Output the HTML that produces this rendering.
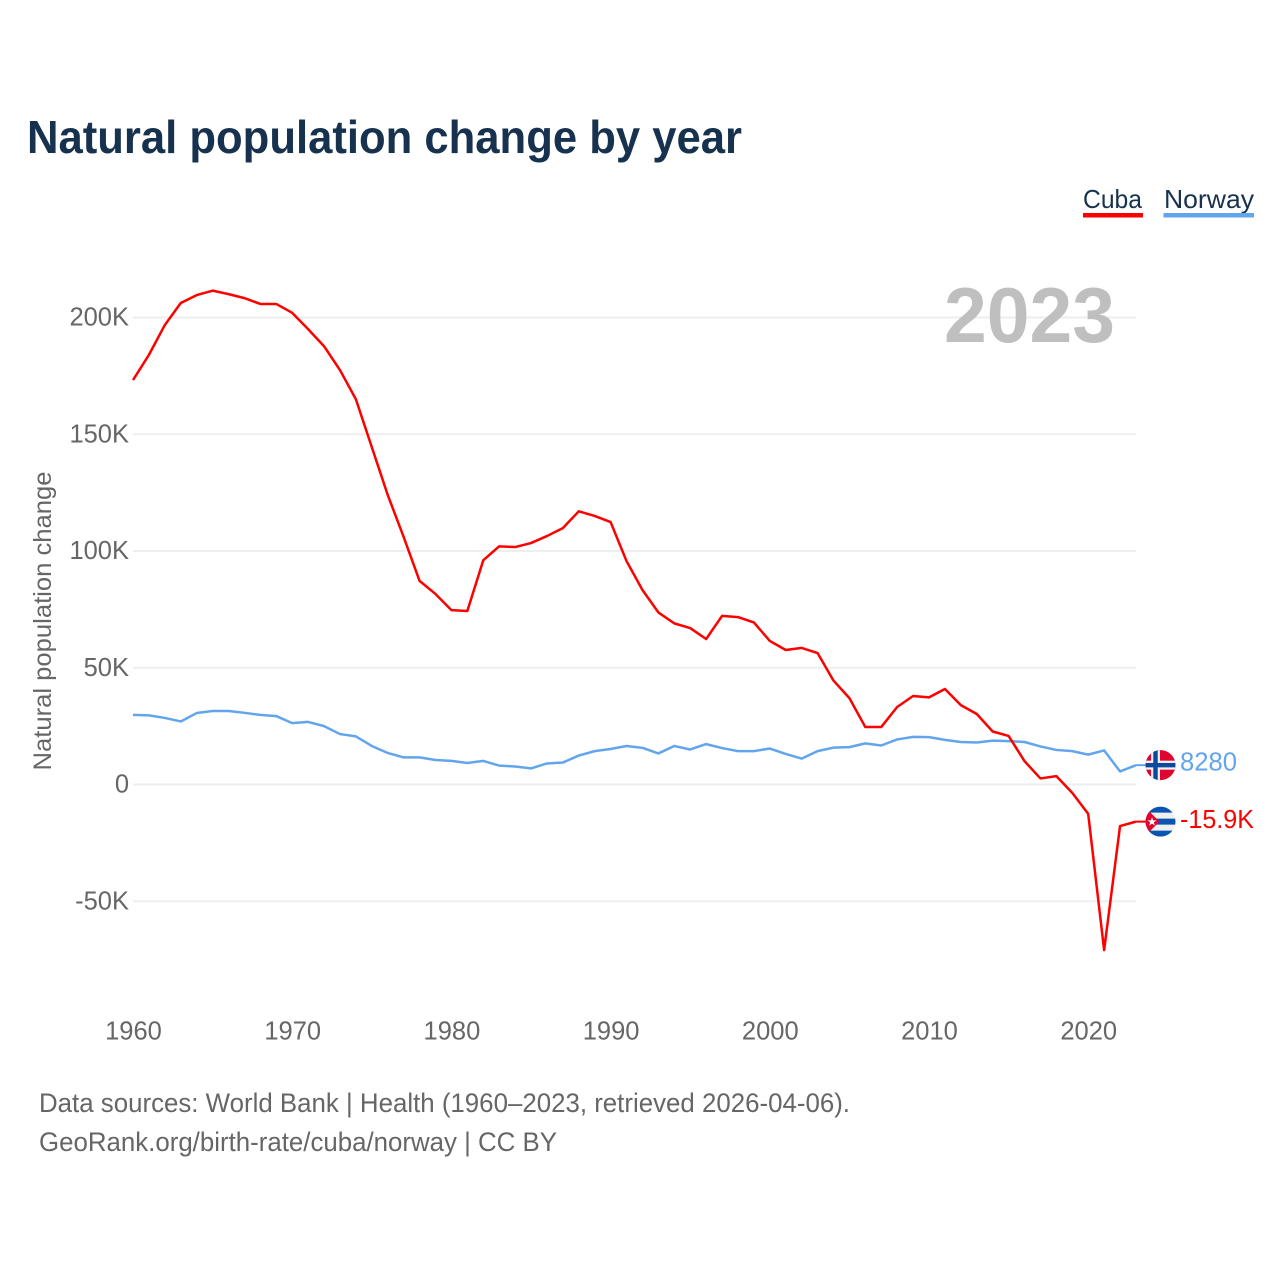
<!DOCTYPE html>
<html lang="en">
<head>
<meta charset="utf-8">
<title>Natural population change by year</title>
<style>
html,body{margin:0;padding:0;background:#fff;width:1280px;height:1280px;overflow:hidden}
svg{display:block}
text{font-family:"Liberation Sans",sans-serif}
</style>
</head>
<body>
<svg id="chart" xmlns="http://www.w3.org/2000/svg" width="1280" height="1280" viewBox="0 0 1280 1280">
  <defs>
    <clipPath id="flag-clip"><circle cx="0" cy="0" r="15"/></clipPath>
  </defs>
  <rect width="1280" height="1280" fill="#fff"/>
  <text x="27" y="153" font-size="46" font-weight="700" fill="#17324f" textLength="715" lengthAdjust="spacingAndGlyphs">Natural population change by year</text>

  <g>
    <text x="1083" y="208" font-size="26" fill="#17324f" textLength="59" lengthAdjust="spacingAndGlyphs">Cuba</text>
    <rect x="1083" y="213" width="60" height="4.5" fill="#ff0000"/>
  </g>
  <g>
    <text x="1164" y="208" font-size="26" fill="#17324f" textLength="90" lengthAdjust="spacingAndGlyphs">Norway</text>
    <rect x="1163.500" y="213" width="90.500" height="4.500" fill="#63a5ec"/>
  </g>

  <g id="grid"></g>
  <g id="ytick-group"></g>
  <g id="xtick-group"></g>

  <text x="1115" y="342" font-size="78" font-weight="700" fill="#bfbfbf" text-anchor="end" textLength="171" lengthAdjust="spacingAndGlyphs">2023</text>

  <text transform="translate(51 621) rotate(-90)" font-size="25" fill="#666" text-anchor="middle" textLength="299" lengthAdjust="spacingAndGlyphs">Natural population change</text>

  <g id="series"></g>
  <g id="end-labels"></g>

  <text x="39" y="1112" font-size="27" fill="#666" textLength="811" lengthAdjust="spacingAndGlyphs">Data sources: World Bank | Health (1960–2023, retrieved 2026-04-06).</text>
  <text x="39" y="1151" font-size="27" fill="#666" textLength="518" lengthAdjust="spacingAndGlyphs">GeoRank.org/birth-rate/cuba/norway | CC BY</text>
</svg>
<script>
const startYear = 1960;
const yTickValues = [200, 150, 100, 50, 0, -50];
const yTickLabels = ["200K", "150K", "100K", "50K", "0", "-50K"];
const xTickValues = [1960, 1970, 1980, 1990, 2000, 2010, 2020];
const xTickLabels = ["1960", "1970", "1980", "1990", "2000", "2010", "2020"];
const cubaValues = [173.2,184,196.8,206.2,209.6,211.5,210,208.3,205.8,205.8,202,195,187.7,177.5,165,144.5,124,106,87.2,81.6,74.7,74.3,96,102,101.7,103.4,106.4,109.8,117,115,112.4,95.7,83.3,73.7,69,67,62.3,72.2,71.7,69.4,61.5,57.6,58.5,56.3,44.5,37,24.6,24.6,33.2,37.9,37.3,40.9,34,30.2,22.7,20.8,10,2.6,3.6,-3.6,-12.6,-70.9,-17.8,-15.9];
const norwayValues = [29.8,29.6,28.5,27,30.6,31.5,31.5,30.7,29.8,29.3,26.3,26.8,25,21.6,20.6,16.5,13.5,11.6,11.6,10.5,10.1,9.2,10.1,8.1,7.7,6.9,9,9.4,12.4,14.3,15.2,16.5,15.7,13.3,16.5,15,17.3,15.6,14.3,14.3,15.4,13.1,11.1,14.3,15.8,16,17.6,16.7,19.3,20.4,20.3,19.1,18.2,18,18.8,18.6,18.2,16.3,14.8,14.3,12.8,14.6,5.6,8.28];
const cubaEndLabel = "-15.9K";
const norwayEndLabel = "8280";

const NS = "http://www.w3.org/2000/svg";
const xScale = function (year) { return 133 + (year - startYear) * 15.92; };
const yScale = function (value) { return 784.5 - value * 2.335; };
function make(tag, attrs, parent) {
  const el = document.createElementNS(NS, tag);
  for (const k in attrs) el.setAttribute(k, attrs[k]);
  parent.appendChild(el);
  return el;
}

const grid = document.getElementById("grid");
const yTicks = document.getElementById("ytick-group");
yTickValues.forEach(function (v, i) {
  const line = make("line", {x1: 133, x2: 1136, y1: yScale(v), y2: yScale(v), stroke: "#eeeeee", "stroke-width": 2}, grid);
  
  
  const t = make("text", {x: 129, y: yScale(v) + 8, "font-size": 25.5, fill: "#666", "text-anchor": "end"}, yTicks);
  
  
  t.textContent = yTickLabels[i];
});

const xTicks = document.getElementById("xtick-group");
xTickValues.forEach(function (v, i) {
  const t = make("text", {x: xScale(v) + 0.5, y: 1039.5, "font-size": 25.5, fill: "#666", "text-anchor": "middle"}, xTicks);
  
  
  t.textContent = xTickLabels[i];
});

const seriesGroup = document.getElementById("series");
function pathFor(values) {
  return values.map(function (v, i) {
    return (i ? "L" : "M") + xScale(startYear + i).toFixed(2) + " " + yScale(v).toFixed(2);
  }).join("");
}
const norwayLine = make("path", {d: pathFor(norwayValues), fill: "none", stroke: "#63a5ec", "stroke-width": 2.5, "stroke-linejoin": "round"}, seriesGroup);


const cubaLine = make("path", {d: pathFor(cubaValues), fill: "none", stroke: "#ff0000", "stroke-width": 2.5, "stroke-linejoin": "round"}, seriesGroup);



const ends = document.getElementById("end-labels");
const lastYear = startYear + cubaValues.length - 1;

const norwayY = yScale(norwayValues[norwayValues.length - 1]);
const norwayLead = make("line", {x1: xScale(lastYear), x2: 1150, y1: norwayY, y2: norwayY, stroke: "#63a5ec", "stroke-width": 2}, ends);


const norwayFlag = make("g", {transform: "translate(1160.5 " + norwayY + ")", "clip-path": "url(#flag-clip)"}, ends);


make("rect", {x: -16, y: -16, width: 32, height: 32, fill: "#e0052e"}, norwayFlag);
make("rect", {x: -16, y: -4.5, width: 32, height: 9, fill: "#f0f0f0"}, norwayFlag);
make("rect", {x: -9.5, y: -16, width: 9, height: 32, fill: "#f0f0f0"}, norwayFlag);
make("rect", {x: -16, y: -2.2, width: 32, height: 4.4, fill: "#0a4a9c"}, norwayFlag);
make("rect", {x: -7.2, y: -16, width: 4.4, height: 32, fill: "#0a4a9c"}, norwayFlag);
const norwayText = make("text", {x: 1180, y: norwayY + 5.5, "font-size": 26, fill: "#63a5ec", textLength: 57, lengthAdjust: "spacingAndGlyphs"}, ends);


norwayText.textContent = norwayEndLabel;

const cubaY = yScale(cubaValues[cubaValues.length - 1]);
const cubaLead = make("line", {x1: xScale(lastYear), x2: 1150, y1: cubaY, y2: cubaY, stroke: "#ff0000", "stroke-width": 2}, ends);


const cubaFlag = make("g", {transform: "translate(1160.5 " + cubaY + ")", "clip-path": "url(#flag-clip)"}, ends);


make("rect", {x: -16, y: -16, width: 32, height: 32, fill: "#f0f0f0"}, cubaFlag);
make("rect", {x: -16, y: -15, width: 32, height: 6, fill: "#0a55b0"}, cubaFlag);
make("rect", {x: -16, y: -3, width: 32, height: 6, fill: "#0a55b0"}, cubaFlag);
make("rect", {x: -16, y: 9, width: 32, height: 6, fill: "#0a55b0"}, cubaFlag);
make("polygon", {points: "-16,-15 -1,0 -16,15", fill: "#e0052e"}, cubaFlag);
make("polygon", {points: "-8.5,-4.5 -7.4,-1.3 -4,-1.3 -6.7,0.7 -5.7,3.9 -8.5,2 -11.3,3.9 -10.3,0.7 -13,-1.3 -9.6,-1.3", fill: "#fff"}, cubaFlag);
const cubaText = make("text", {x: 1180, y: cubaY + 6.5, "font-size": 26, fill: "#ff0000", textLength: 74, lengthAdjust: "spacingAndGlyphs"}, ends);


cubaText.textContent = cubaEndLabel;
</script>
</body>
</html>
